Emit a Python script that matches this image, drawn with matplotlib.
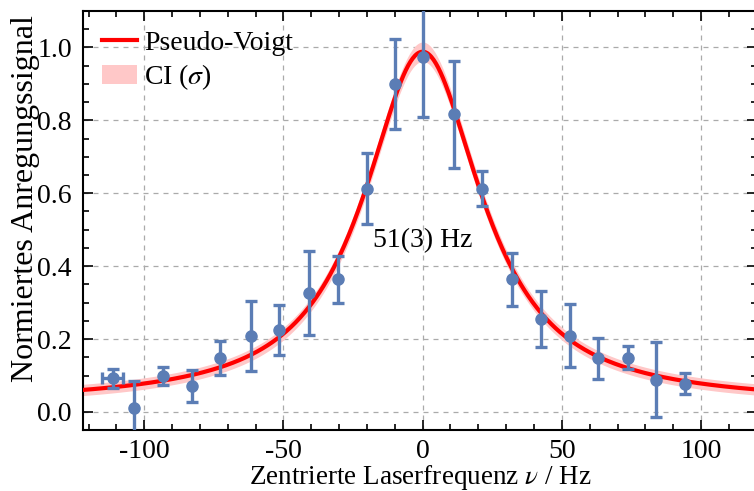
import matplotlib
matplotlib.use("Agg")
import matplotlib.pyplot as plt
from matplotlib.ticker import MultipleLocator
from matplotlib.patches import Patch
from matplotlib.lines import Line2D
import numpy as np

plt.rcParams['font.family'] = ['Liberation Serif', 'DejaVu Serif']
plt.rcParams['mathtext.fontset'] = 'stix'
plt.rcParams['axes.unicode_minus'] = False
plt.rcParams['font.size'] = 20

# measured points
freq = [-111.4, -103.7, -93.2, -82.9, -72.8, -61.8, -51.5, -40.7, -30.5, -20.1,
        -9.9, 0.2, 11.2, 21.5, 32.2, 42.4, 52.9, 63.1, 73.9, 84.0, 94.2]
signal = [0.092, 0.010, 0.099, 0.071, 0.149, 0.209, 0.225, 0.326, 0.364, 0.612,
          0.900, 0.973, 0.816, 0.612, 0.364, 0.254, 0.209, 0.147, 0.149, 0.088, 0.077]
sig_err = [0.027, 0.075, 0.024, 0.043, 0.047, 0.096, 0.068, 0.115, 0.064, 0.097,
           0.123, 0.163, 0.147, 0.048, 0.072, 0.077, 0.086, 0.056, 0.031, 0.103, 0.029]
freq_err = [3.9, 0, 0, 0, 0, 0, 0, 0, 0, 0,
            0, 0, 0, 0, 0, 0, 0, 0, 0, 0, 0]

# fit parameters (pseudo-Voigt)
x0 = 0.0
fwhm = 51.0
amp = 0.966
eta = 0.95
offset = 0.022
ci_base = 0.015
ci_rel = 0.012


def pvoigt(x):
    g = np.exp(-4 * np.log(2) * ((x - x0) / fwhm) ** 2)
    l = 1 / (1 + (2 * (x - x0) / fwhm) ** 2)
    return offset + amp * (eta * l + (1 - eta) * g)


fig = plt.figure(figsize=(7.54, 4.91), dpi=100)
ax = fig.add_axes([83 / 754, 60.8 / 491, 673.7 / 754, 419.3 / 491])

xx = np.linspace(-125, 125, 600)
yy = pvoigt(xx)
band = ci_base + ci_rel * (yy - offset)
ax.fill_between(xx, yy - band, yy + band, color='#ffc8c8', lw=0, zorder=2)
ax.plot(xx, yy, color='red', lw=3, zorder=3)

ax.errorbar(freq, signal, yerr=sig_err, xerr=freq_err, fmt='o', color='#5b7db5',
            ms=8, elinewidth=2.4, capsize=4, capthick=2.4, zorder=4)

ax.text(0, 0.469, '51(3) Hz', ha='center', va='center', fontsize=20, zorder=5)

ax.set_xlim(-122, 120)
ax.set_ylim(-0.05, 1.1)
ax.xaxis.set_major_locator(MultipleLocator(50))
ax.xaxis.set_minor_locator(MultipleLocator(10))
ax.yaxis.set_major_locator(MultipleLocator(0.2))
ax.yaxis.set_minor_locator(MultipleLocator(0.05))
ax.tick_params(which='both', direction='in', top=True, right=True, width=1.2)
ax.tick_params(which='major', length=7, pad=8)
ax.tick_params(axis='x', which='major', pad=6)
ax.tick_params(which='minor', length=4)
for s in ax.spines.values():
    s.set_linewidth(1.5)
ax.grid(True, which='major', ls=(0, (4, 4)), color='#aaaaaa', lw=0.9, zorder=0)

ax.set_xlabel(r'Zentrierte Laserfrequenz $\nu$ / Hz', fontsize=19.5, labelpad=-0.5)
ax.set_ylabel('Normiertes Anregungssignal', fontsize=23)
ax.yaxis.set_label_coords(-0.064, 0.552)

handles = [Line2D([], [], color='red', lw=3), Patch(color='#ffc8c8', lw=0)]
ax.legend(handles, ['Pseudo-Voigt', r'CI ($\sigma$)'], loc='upper left', frameon=False,
          handlelength=1.26, handletextpad=0.25, labelspacing=0.24,
          borderaxespad=0.3, fontsize=20)

fig.savefig('out.png', dpi=100)
